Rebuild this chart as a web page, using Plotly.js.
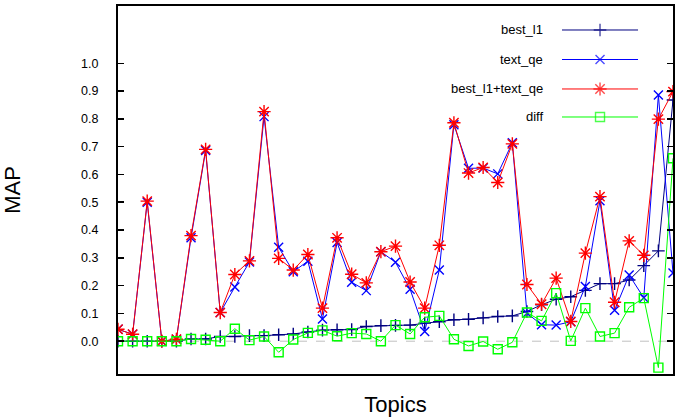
<!DOCTYPE html>
<html><head><meta charset="utf-8">
<script src="https://cdn.plot.ly/plotly-3.0.1.min.js"></script>
<style>html,body{margin:0;padding:0;background:#fff}</style>
</head><body><div id="chart" style="width:681px;height:418px"></div>
<script>
// ---- data ----
const topics = [1,2,3,4,5,6,7,8,9,10,11,12,13,14,15,16,17,18,19,20,21,22,23,24,25,26,27,28,29,30,31,32,33,34,35,36,37,38,39];
const best_l1 = [0.0,0.0,0.0,0.0,0.0,0.008,0.008,0.017,0.017,0.02,0.02,0.023,0.026,0.033,0.04,0.041,0.042,0.053,0.056,0.057,0.058,0.065,0.07,0.077,0.079,0.084,0.089,0.091,0.107,0.131,0.151,0.16,0.183,0.207,0.207,0.22,0.272,0.325,0.868];
const text_qe = [0.043,0.025,0.5,0.0,0.007,0.372,0.686,0.103,0.195,0.285,0.808,0.338,0.25,0.288,0.08,0.355,0.212,0.182,0.322,0.284,0.187,0.035,0.256,0.779,0.622,0.623,0.602,0.714,0.101,0.059,0.058,0.07,0.197,0.505,0.111,0.238,0.156,0.886,0.245];
const combined = [0.043,0.025,0.504,0.0,0.007,0.38,0.69,0.103,0.24,0.289,0.826,0.298,0.256,0.312,0.119,0.372,0.241,0.21,0.322,0.342,0.213,0.119,0.345,0.786,0.605,0.625,0.571,0.71,0.204,0.133,0.227,0.071,0.317,0.52,0.14,0.361,0.309,0.799,0.898];
const diff = [0.0,0.0,0.0,0.0,0.0,0.008,0.005,0.0,0.045,0.004,0.017,-0.04,0.006,0.03,0.039,0.018,0.029,0.026,0.0,0.058,0.026,0.086,0.091,0.007,-0.017,-0.001,-0.029,-0.004,0.103,0.073,0.173,0.001,0.119,0.017,0.029,0.122,0.155,-0.095,0.658];
const seriesNames = ["best_l1","text_qe","best_l1+text_qe","diff"];
const yTickVals = [0.0,0.1,0.2,0.3,0.4,0.5,0.6,0.7,0.8,0.9,1.0];

// ---- styles ----
const styles = [
  {color:"#000080", symbol:"cross-thin", size:9},
  {color:"#0000ff", symbol:"x-thin", size:9},
  {color:"#ff0000", symbol:"asterisk", size:11},
  {color:"#00ff00", symbol:"square-open", size:9}
];
const values = [best_l1, text_qe, combined, diff];

const FONT = "Arial, 'Liberation Sans', sans-serif";
const traces = values.map((v,k)=>({
  type:"scatter", mode:"lines+markers", name:seriesNames[k],
  x:topics, y:v, showlegend:false,
  line:{color:styles[k].color, width:1},
  marker:{symbol:styles[k].symbol, size:styles[k].size, color:styles[k].color,
          line:{color:styles[k].color, width:1.4}}
}));

// custom legend (text left of sample, as in the reference), drawn on an overlay axis
const legRows = [0.9348, 0.8546, 0.7745, 0.6984];
const legX = {x0:0.80, xm:0.8685, x1:0.937, text:0.7694};
const annotations = [];
seriesNames.forEach((n,k)=>{
  traces.push({
    type:"scatter", mode:"lines+markers", xaxis:"x2", yaxis:"y2", showlegend:false, hoverinfo:"skip",
    x:[legX.x0, legX.xm, legX.x1], y:[legRows[k],legRows[k],legRows[k]],
    line:{color:styles[k].color, width:1},
    marker:{symbol:styles[k].symbol, size:[0,styles[k].size,0], color:styles[k].color,
            line:{color:styles[k].color, width:1.4}}
  });
  annotations.push({xref:"paper", yref:"paper", x:legX.text, y:legRows[k], xanchor:"right", yanchor:"middle",
    text:n, showarrow:false, font:{family:FONT, size:13, color:"#000"}});
});

const layout = {
  width:681, height:418,
  margin:{l:118, r:8, t:6, b:44, pad:0},
  paper_bgcolor:"#fff", plot_bgcolor:"#fff",
  font:{family:FONT, size:12, color:"#000"},
  showlegend:false,
  xaxis:{range:[1,39], showgrid:false, zeroline:false, showticklabels:false, ticks:"",
         showline:true, mirror:true, linecolor:"#000", linewidth:2,
         title:{text:"Topics", font:{family:FONT, size:22, color:"#000"}, standoff:22}},
  yaxis:{range:[-0.118,1.206], tickvals:yTickVals, tickformat:".1f", showgrid:false, zeroline:false,
         ticks:"inside", ticklen:6, tickwidth:1.5, tickcolor:"#000", ticklabelstandoff:15,
         showline:true, mirror:"ticks", linecolor:"#000", linewidth:2,
         tickfont:{family:FONT, size:12.5, color:"#000"},
         title:{text:"MAP", font:{family:FONT, size:22, color:"#000"}, standoff:54}},
  xaxis2:{overlaying:"x", range:[0,1], visible:false, fixedrange:true},
  yaxis2:{overlaying:"y", range:[0,1], visible:false, fixedrange:true},
  shapes:[{type:"line", xref:"paper", x0:0, x1:1, yref:"y", y0:0, y1:0, layer:"below",
           line:{color:"#c0c0c0", width:1, dash:"dash"}}],
  annotations:annotations
};
Plotly.newPlot("chart", traces, layout, {staticPlot:true, displayModeBar:false});
</script></body></html>
